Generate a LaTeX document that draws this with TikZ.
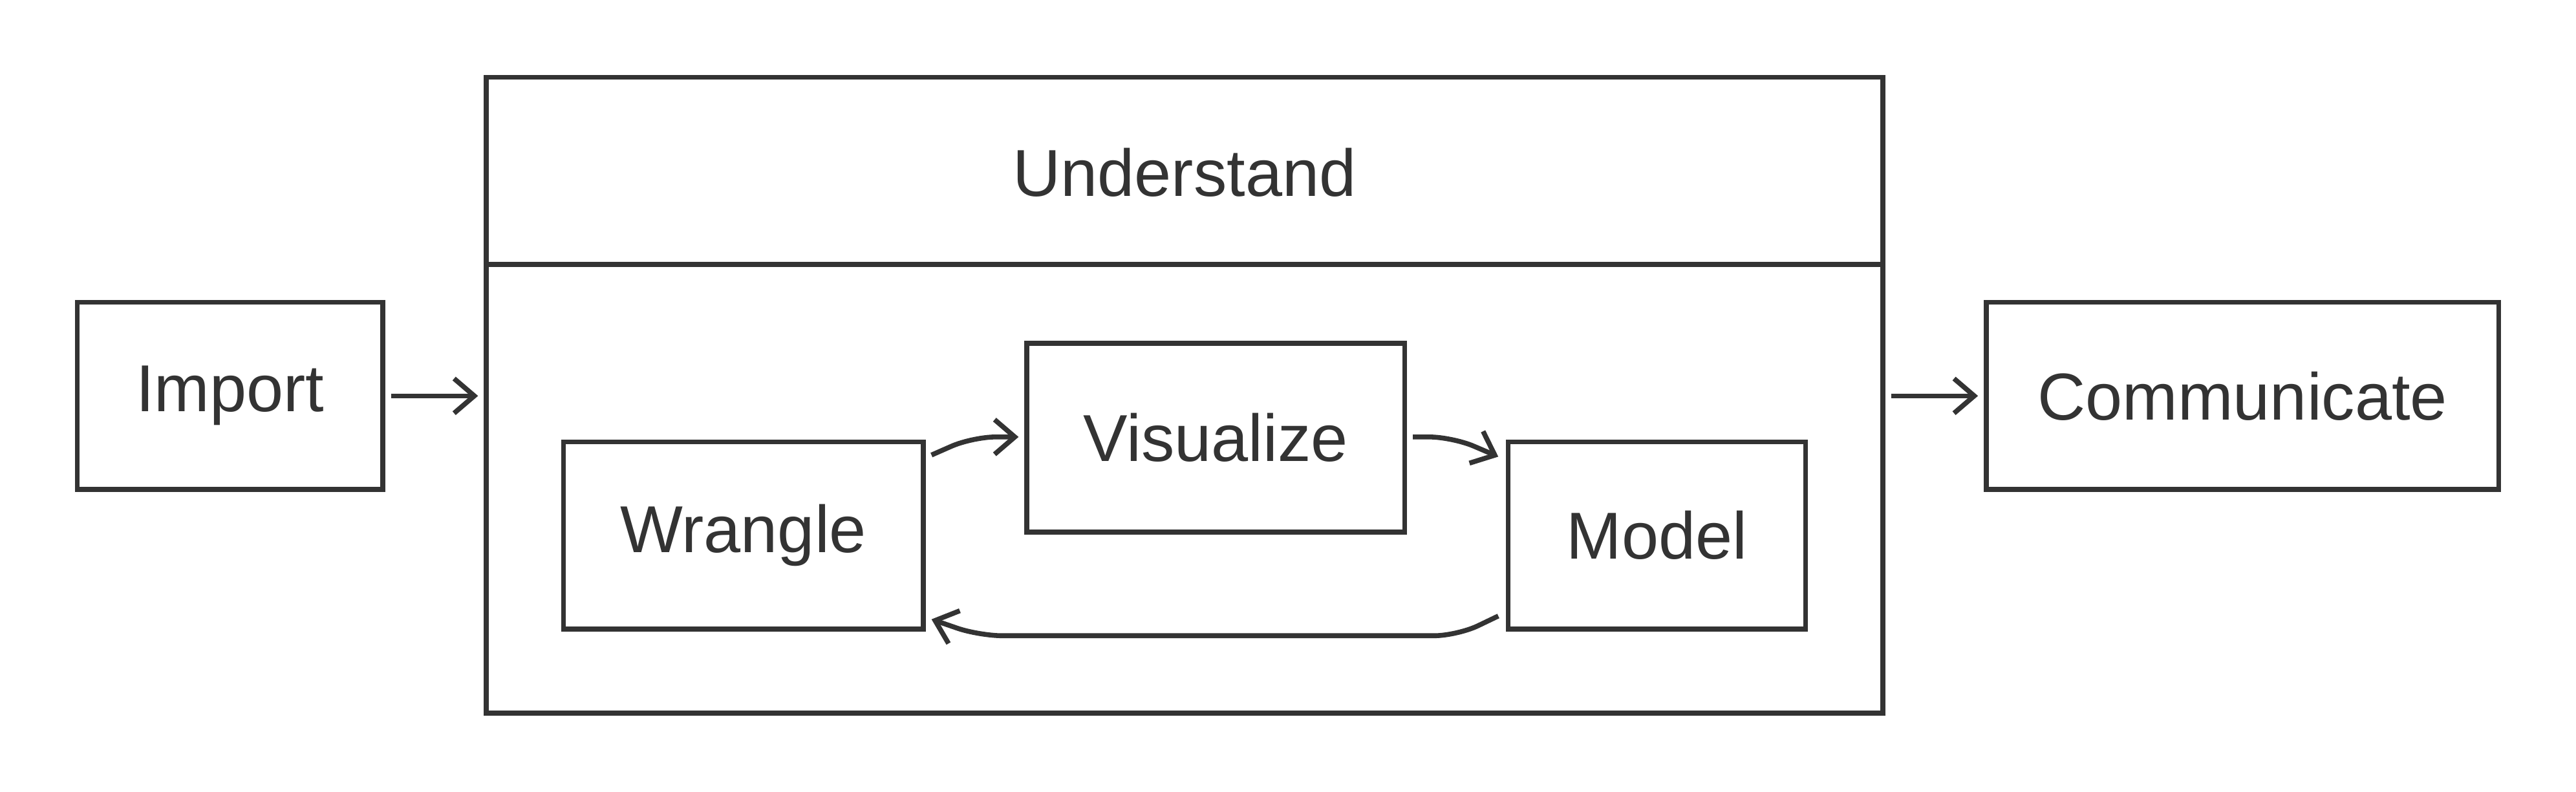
\documentclass[tikz,border=0pt]{standalone}
\usepackage{fontspec}
\setmainfont{Liberation Sans}
\usetikzlibrary{arrows.meta}
\begin{document}
\begin{tikzpicture}[x=0.02cm,y=-0.02cm,
  line width=1.7pt, draw=black!80,
  box/.style={draw=black!80, line width=1.7pt, inner sep=0pt, font=\fontsize{23}{27}\selectfont, text=black!80},
  arr/.style={draw=black!80, line width=1.7pt, rounded corners=8, -{Straight Barb[length=7pt,width=12pt,line width=1.7pt]}}]
\useasboundingbox (0,0) rectangle (1568,482);
\node[box, minimum width=186*0.02cm, minimum height=114*0.02cm] (imp) at (140,241) {Import};
\node[box, minimum width=312*0.02cm, minimum height=114*0.02cm] (com) at (1365,241) {Communicate};
\node[box, minimum width=850*0.02cm, minimum height=387*0.02cm] (und) at (721,240.5) {};
\draw[draw=black!80] (und.west |- 0,161) coordinate (dl) -- (und.east |- 0,161) coordinate (dr);
\node[font=\fontsize{23}{27}\selectfont, text=black!80] (ut) at (721,105) {Understand};
\node[box, minimum width=230*0.02cm, minimum height=115*0.02cm] (vis) at (740,266.5) {Visualize};
\node[box, minimum width=219*0.02cm, minimum height=114*0.02cm] (wra) at (452.5,326) {Wrangle};
\node[box, minimum width=181*0.02cm, minimum height=114*0.02cm] (mod) at (1008.5,326) {Model};
\coordinate (a1) at (238,241); \coordinate (a2) at (291,241);
\coordinate (b1) at (1151,241); \coordinate (b2) at (1204,241);
\draw[arr] (a1) -- (a2);
\draw[arr] (b1) -- (b2);
\coordinate (w1) at (567,277); \coordinate (w2) at (592,266); \coordinate (w3) at (620,266);
\draw[arr] (w1) -- (w2) -- (w3);
\coordinate (v1) at (860,266); \coordinate (v2) at (884,266); \coordinate (v3) at (912,278);
\draw[arr] (v1) -- (v2) -- (v3);
\coordinate (m1) at (912,375); \coordinate (m2) at (887,387); \coordinate (m3) at (596,387); \coordinate (m4) at (567,377);
\draw[arr] (m1) -- (m2) -- (m3) -- (m4);
\end{tikzpicture}
\end{document}
